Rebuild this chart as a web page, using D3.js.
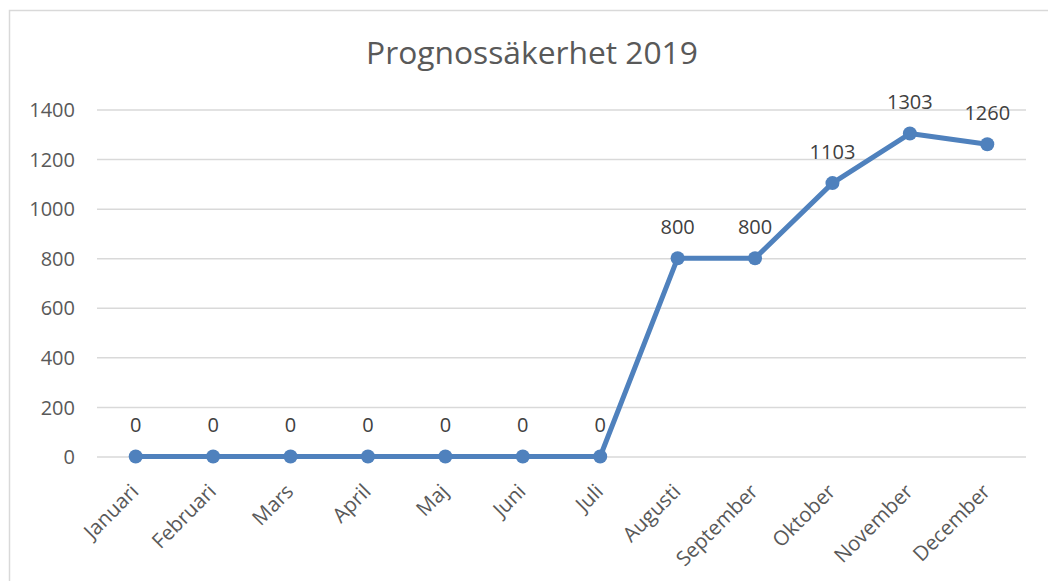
<!DOCTYPE html>
<html><head><meta charset="utf-8">
<script src="https://cdn.jsdelivr.net/npm/d3@7"></script>
<style>body{margin:0;background:#fff}svg{display:block}</style>
</head><body>
<svg id="c" width="1048" height="581"></svg>
<script>
const months = ["Januari","Februari","Mars","April","Maj","Juni","Juli","Augusti","September","Oktober","November","December"];
const values = [0,0,0,0,0,0,0,800,800,1103,1303,1260];
const yTicks = [0,200,400,600,800,1000,1200,1400];
const title = "Prognossäkerhet 2019";

const svg = d3.select("#c");
const font = "'Open Sans', 'Liberation Sans', sans-serif";
svg.append("rect").attr("x",9.5).attr("y",10.5).attr("width",1100).attr("height",600)
  .attr("fill","none").attr("stroke","#d9d9d9").attr("stroke-width",1.5);

const x = d3.scaleBand().domain(months).range([97,1026]);
const y = d3.scaleLinear().domain([0,1400]).range([456.5,109.5]);

function fitText(sel, w){
  const node = sel.node();
  const cur = node.getComputedTextLength();
  const fs = parseFloat(sel.attr("font-size"));
  sel.attr("font-size", fs*w/cur);
}

const t = svg.append("text").attr("x",532).attr("y",64).attr("text-anchor","middle")
  .attr("font-family",font).attr("font-size",28).attr("fill","#595959").text(title);
fitText(t, 332);

const g = svg.append("g");
const yAxis = d3.axisLeft(y).tickValues(yTicks).tickFormat(d3.format("d"))
  .tickSize(-(1026-97)).tickPadding(22);
const ya = g.append("g").attr("transform","translate(97,0)").call(yAxis);
ya.select(".domain").remove();
ya.selectAll(".tick line").attr("stroke","#d9d9d9").attr("stroke-width",1.5);
ya.selectAll(".tick text").attr("font-family",font).attr("font-size",20).attr("fill","#595959").attr("dy","0.36em");

const xa = g.append("g").attr("transform","translate(0,456.5)")
  .call(d3.axisBottom(x).tickSize(0).tickPadding(0));
xa.select(".domain").remove();
xa.selectAll(".tick text").attr("font-family",font).attr("font-size",20.5)
  .attr("fill","#595959").attr("text-anchor","end")
  .attr("transform","translate(-1,31) rotate(-45)").attr("dy","0.36em");

const cx = d => x(d) + x.bandwidth()/2;
const line = d3.line().x((d,i)=>cx(months[i])).y(d=>y(d));
g.append("path").datum(values).attr("d",line).attr("fill","none")
  .attr("stroke","#4F81BD").attr("stroke-width",5).attr("stroke-linejoin","round");
g.selectAll("circle.pt").data(values).join("circle").attr("class","pt")
  .attr("cx",(d,i)=>cx(months[i])).attr("cy",d=>y(d)).attr("r",7).attr("fill","#4F81BD");
g.selectAll("text.lbl").data(values).join("text").attr("class","lbl")
  .attr("x",(d,i)=>cx(months[i])).attr("y",d=>y(d)-24.5).attr("text-anchor","middle")
  .attr("font-family",font).attr("font-size",20).attr("fill","#404040").text(d=>d);
</script>
</body></html>
